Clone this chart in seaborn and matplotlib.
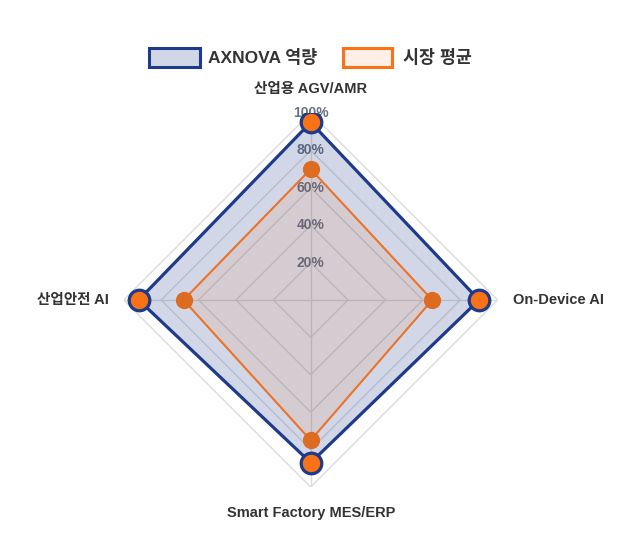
import numpy as np
import pandas as pd
import matplotlib
matplotlib.use('Agg')
import matplotlib.pyplot as plt
import seaborn as sns
from matplotlib.patches import Rectangle

# data
categories = ['산업용 AGV/AMR', 'On-Device AI', 'Smart Factory MES/ERP', '산업안전 AI']
axnova = [95, 90, 87, 92]
market = [70, 65, 75, 68]
series_names = ['AXNOVA 역량', '시장 평균']
ticks = [20, 40, 60, 80, 100]

NAVY = '#1e3a8a'
ORANGE = '#f97316'
ORANGE_LINE = '#ec7228'
ORANGE_DARK = '#dd6b20'
GRID = '#dcdcdc'

sns.set_theme(style='white')
plt.rcParams['font.family'] = ['Liberation Sans', 'Noto Sans CJK KR', 'DejaVu Sans']

W, H = 635, 548
fig = plt.figure(figsize=(W / 100, H / 100), dpi=100)
fig.patch.set_facecolor('white')

cx, cy, R = 310.7, 300, 187
ax = fig.add_axes([(cx - R) / W, (H - cy - R) / H, 2 * R / W, 2 * R / H], projection='polar')
ax.set_theta_zero_location('N')
ax.set_theta_direction(-1)
ax.set_ylim(0, 100)
ax.grid(False)
ax.set_xticks([])
ax.set_yticks([])
ax.spines['polar'].set_visible(False)
ax.set_facecolor('none')

n = len(categories)
theta = np.arange(n) * 2 * np.pi / n
# close the shape at 2*pi so the last segment is not merged with theta=0
theta_closed = np.append(theta, 2 * np.pi)

# polygon grid + spokes
for t in ticks:
    ax.plot(theta_closed, [t] * (n + 1), color=GRID, lw=1.0, zorder=1)
for th in theta:
    ax.plot([th, th], [0, 100], color=GRID, lw=1.0, zorder=1)

# radial tick labels (drawn under the data like chart.js)
for t in ticks:
    ax.text(0, t, f'{t}%', ha='center', va='center', fontsize=10, fontweight='bold',
            color='#6b7280', zorder=2)


def draw_series(values, line_color, fill_color, fill_alpha, lw, pt_face, pt_edge, pt_size, pt_lw, z):
    vals = list(values) + [values[0]]
    df = pd.DataFrame({'theta': theta_closed, 'r': vals})
    ax.fill(theta_closed, vals, color=fill_color, alpha=fill_alpha, lw=0, zorder=z)
    sns.lineplot(data=df, x='theta', y='r', sort=False, estimator=None, ax=ax,
                 color=line_color, lw=lw, zorder=z + 1, legend=False)
    sns.scatterplot(data=df.iloc[:-1], x='theta', y='r', ax=ax, s=pt_size, color=pt_face,
                    edgecolor=pt_edge, linewidth=pt_lw, zorder=z + 2, legend=False)


draw_series(axnova, NAVY, NAVY, 0.20, 2.3, ORANGE, NAVY, 220, 2.3, 3)
draw_series(market, ORANGE_LINE, ORANGE, 0.10, 1.5, ORANGE_DARK, ORANGE_DARK, 135, 0.8, 6)
ax.set_xlabel('')
ax.set_ylabel('')
ax.set_ylim(0, 100)

# category labels
lab_kw = dict(fontsize=10.5, fontweight='bold', color='#333333', zorder=10)
ax.text(theta[0], 109, categories[0], ha='center', va='bottom', **lab_kw)
ax.text(theta[1], 108, categories[1], ha='left', va='center', **lab_kw)
ax.text(theta[2], 110, categories[2], ha='center', va='top', **lab_kw)
ax.text(theta[3], 108, categories[3], ha='right', va='center', **lab_kw)


# legend drawn manually at the top
def legend_item(x0, x1, text_x, edge, face, face_alpha, label):
    y0, y1 = 48, 67
    fig.add_artist(Rectangle((x0 / W, 1 - y1 / H), (x1 - x0) / W, (y1 - y0) / H,
                             transform=fig.transFigure, facecolor=face, alpha=face_alpha,
                             edgecolor='none'))
    fig.add_artist(Rectangle((x0 / W, 1 - y1 / H), (x1 - x0) / W, (y1 - y0) / H,
                             transform=fig.transFigure, facecolor='none', edgecolor=edge,
                             lw=2.2))
    fig.text(text_x / W, 1 - 57.5 / H, label, ha='left', va='center', fontsize=12.5,
             fontweight='bold', color='#333333')


legend_item(149, 200, 208, NAVY, NAVY, 0.2, series_names[0])
legend_item(343, 392, 403, ORANGE, ORANGE, 0.1, series_names[1])

fig.savefig('out.png', dpi=100, facecolor='white')
